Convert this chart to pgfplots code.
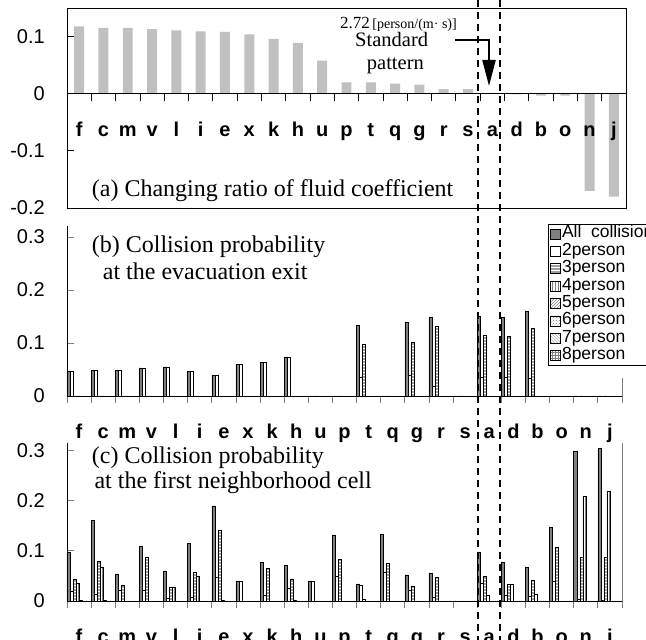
\documentclass[border=0pt]{standalone}
\usepackage{fontspec}
\setmainfont{Liberation Serif}
\setsansfont{Liberation Sans}
\usepackage{pgfplots}
\usepackage{pgfplotstable}
\pgfplotsset{compat=1.18}
\usetikzlibrary{patterns,arrows.meta}

\definecolor{barlight}{RGB}{192,192,192}
\definecolor{allcol}{RGB}{128,128,128}
\definecolor{tickgray}{RGB}{125,125,125}

% changing ratio of fluid coefficient
\pgfplotstableread{
x  r
0  0.118
1  0.115
2  0.115
3  0.113
4  0.111
5  0.109
6  0.108
7  0.104
8  0.096
9  0.089
10 0.058
11 0.020
12 0.020
13 0.0175
14 0.016
15 0.008
16 0.008
17 0
18 -0.001
19 -0.0035
20 -0.0035
21 -0.170
22 -0.180
}\tabA

% collision probability at the evacuation exit
\pgfplotstableread{
x  all   p2    p3    p4 p5 p6 p7 p8
0  0.046 0.046 0     0  0  0  0  0
1  0.048 0.048 0     0  0  0  0  0
2  0.049 0.049 0     0  0  0  0  0
3  0.053 0.053 0     0  0  0  0  0
4  0.055 0.055 0     0  0  0  0  0
5  0.047 0.047 0     0  0  0  0  0
6  0.040 0.040 0     0  0  0  0  0
7  0.060 0.060 0     0  0  0  0  0
8  0.064 0.064 0     0  0  0  0  0
9  0.074 0.074 0     0  0  0  0  0
10 0     0     0     0  0  0  0  0
11 0     0     0     0  0  0  0  0
12 0.133 0.036 0.098 0  0  0  0  0
13 0     0     0     0  0  0  0  0
14 0.139 0.040 0.101 0  0  0  0  0
15 0.148 0.018 0.132 0  0  0  0  0
16 0     0     0     0  0  0  0  0
17 0.151 0.035 0.115 0  0  0  0  0
18 0.148 0.035 0.113 0  0  0  0  0
19 0.160 0.033 0.128 0  0  0  0  0
20 0     0     0     0  0  0  0  0
21 0     0     0     0  0  0  0  0
22 0     0     0     0  0  0  0  0
}\tabB

% collision probability at the first neighborhood cell
\pgfplotstableread{
x  all   p2    p3    p4    p5    p6 p7 p8
0  0.098 0.019 0.043 0.035 0.002 0  0  0
1  0.161 0.014 0.079 0.067 0.002 0  0  0
2  0.054 0.022 0.032 0     0     0  0  0
3  0.109 0.021 0.088 0     0     0  0  0
4  0.060 0.005 0.028 0.027 0     0  0  0
5  0.115 0.008 0.057 0.050 0     0  0  0
6  0.190 0.047 0.142 0.001 0     0  0  0
7  0.040 0.040 0     0     0     0  0  0
8  0.077 0.012 0.065 0     0     0  0  0
9  0.071 0.025 0.044 0.002 0     0  0  0
10 0.040 0.040 0     0     0     0  0  0
11 0.132 0.049 0.083 0     0     0  0  0
12 0.034 0.031 0.003 0     0     0  0  0
13 0.133 0.058 0.075 0     0     0  0  0
14 0.052 0.022 0.030 0     0     0  0  0
15 0.056 0.008 0.047 0     0     0  0  0
16 0     0     0     0     0     0  0  0
17 0.098 0.035 0.049 0.012 0     0  0  0
18 0.078 0.012 0.033 0.033 0     0  0  0
19 0.067 0.010 0.042 0.014 0     0  0  0
20 0.147 0.039 0.108 0     0     0  0  0
21 0.299 0.003 0.087 0.209 0     0  0  0
22 0.305 0.002 0.087 0.218 0     0  0  0
}\tabC

\pgfplotsset{
  every non boxed x axis/.style={},
  every non boxed y axis/.style={},
  panel/.style={
    scale only axis,
    anchor=south west,
    xmin=-0.5, xmax=22.5,
    xtick={-0.5,0.5,...,22.5},
    xticklabels={},
    extra x ticks={0,1,...,22},
    extra x tick labels={f,c,m,v,l,i,e,x,k,h,u,p,t,q,g,r,s,a,d,b,o,n,j},
    extra x tick style={tick style={draw=none},
      xticklabel style={anchor=base, yshift=-36pt, inner sep=0pt,
        font=\sffamily\bfseries\fontsize{20}{20}\selectfont}},
    yticklabel style={anchor=east, inner sep=0pt, xshift=-22pt,
      font=\sffamily\fontsize{20}{20}\selectfont},
    tick align=inside,
    major tick length=7pt,
    axis line style={-, line width=0.8pt},
    hide obscured x ticks=false,
    hide obscured y ticks=false,
  },
  legsq/.style={legend image code/.code={\draw[##1, line width=0.6pt] (0pt,-5pt) rectangle (10pt,5pt);}},
  s1/.style={fill=allcol, draw=black, line width=0.5pt, legsq},
  s2/.style={fill=white, draw=black, line width=0.5pt, legsq},
  s3/.style={fill=gray!75, draw=black, line width=0.5pt, postaction={pattern=horizontal lines, pattern color=white}, legsq},
  s4/.style={fill=white, draw=black, line width=0.5pt, postaction={pattern=vertical lines, pattern color=gray}, legsq},
  s5/.style={fill=white, draw=black, line width=0.5pt, postaction={pattern=north east lines, pattern color=gray}, legsq},
  s6/.style={fill=white, draw=black, line width=0.5pt, postaction={pattern=crosshatch dots, pattern color=gray}, legsq},
  s7/.style={fill=white, draw=black, line width=0.5pt, postaction={pattern=north west lines, pattern color=gray!60}, legsq},
  s8/.style={fill=white, draw=black, line width=0.5pt, postaction={pattern=grid, pattern color=gray}, legsq},
}

\begin{document}
\begin{tikzpicture}
\path[use as bounding box] (0,0) rectangle (646pt,640pt);

% (a)
\begin{axis}[panel,
  at={(67pt,432pt)}, width=559pt, height=200pt,
  ymin=-0.2, ymax=0.15,
  axis x line=middle, axis y line=left,
  axis on top,
  xtick align=inside,
  ytick={-0.2,-0.1,0,0.1},
  yticklabels={-0.2,-0.1,0,0.1},
  tick style={black, line width=0.8pt},
  ybar, bar width=0.41,
  after end axis/.code={\draw[line width=0.8pt] (rel axis cs:0,0) rectangle (rel axis cs:1,1);},
]
\addplot[fill=barlight, draw=none] table[x=x,y=r] {\tabA};
\end{axis}

% (b)
\begin{axis}[panel,
  at={(67pt,244pt)}, width=555pt, height=169.6pt,
  ymin=0, ymax=0.32,
  axis x line=bottom, axis y line=left,
  ytick={0,0.1,0.2,0.3},
  yticklabels={0,0.1,0.2,0.3},
  tick style={tickgray, line width=0.8pt},
  ybar=0pt, bar width=0.125,
  legend style={at={(0.866,1.0142)}, anchor=north west, draw=black, line width=0.6pt,
    fill=white, font=\sffamily\fontsize{17.5}{17.5}\selectfont,
    inner xsep=2pt, inner ysep=1pt, row sep=0pt, column sep=1.5pt,
    nodes={inner sep=0pt, text height=12.6pt, text depth=4.8pt, anchor=west}},
  legend cell align=left,
  after end axis/.code={\draw[tickgray, line width=0.6pt] (rel axis cs:1,0) -- (axis cs:22.5,0.034);},
]
\addplot[s1, bar shift=-0.4375] table[x=x,y=all] {\tabB};
\addplot[s2, bar shift=-0.3125] table[x=x,y=p2] {\tabB};
\addplot[s3, bar shift=-0.1875] table[x=x,y=p3] {\tabB};
\addplot[s4, bar shift=-0.0625] table[x=x,y=p4] {\tabB};
\addplot[s5, bar shift=0.0625] table[x=x,y=p5] {\tabB};
\addplot[s6, bar shift=0.1875] table[x=x,y=p6] {\tabB};
\addplot[s7, bar shift=0.3125] table[x=x,y=p7] {\tabB};
\addplot[s8, bar shift=0.4375] table[x=x,y=p8] {\tabB};
\legend{All\hspace{0.55em}collision,2person,3person,4person,5person,6person,7person,8person}
\end{axis}

% (c)
\begin{axis}[panel,
  at={(67pt,39pt)}, width=555pt, height=158.4pt,
  ymin=0, ymax=0.316,
  axis x line=bottom, axis y line=left,
  ytick={0,0.1,0.2,0.3},
  yticklabels={0,0.1,0.2,0.3},
  tick style={tickgray, line width=0.8pt},
  ybar=0pt, bar width=0.125,
  after end axis/.code={\draw[tickgray, line width=0.6pt] (rel axis cs:1,0) -- (rel axis cs:1,1);},
]
\addplot[s1, bar shift=-0.4375] table[x=x,y=all] {\tabC};
\addplot[s2, bar shift=-0.3125] table[x=x,y=p2] {\tabC};
\addplot[s3, bar shift=-0.1875] table[x=x,y=p3] {\tabC};
\addplot[s4, bar shift=-0.0625] table[x=x,y=p4] {\tabC};
\addplot[s5, bar shift=0.0625] table[x=x,y=p5] {\tabC};
\addplot[s6, bar shift=0.1875] table[x=x,y=p6] {\tabC};
\addplot[s7, bar shift=0.3125] table[x=x,y=p7] {\tabC};
\addplot[s8, bar shift=0.4375] table[x=x,y=p8] {\tabC};
\end{axis}

% panel captions
\node[anchor=base west, inner sep=0pt, font=\fontsize{24}{24}\selectfont] at (91.7pt,443.3pt) {(a) Changing ratio of fluid coefficient};
\node[anchor=base west, inner sep=0pt, font=\fontsize{24}{24}\selectfont] at (91.7pt,387pt) {(b) Collision probability};
\node[anchor=base west, inner sep=0pt, font=\fontsize{24}{24}\selectfont] at (102.7pt,360pt) {at the evacuation exit};
\node[anchor=base west, inner sep=0pt, font=\fontsize{24}{24}\selectfont] at (91.7pt,176.7pt) {(c) Collision probability};
\node[anchor=base west, inner sep=0pt, font=\fontsize{24}{24}\selectfont] at (94.3pt,151.7pt) {at the first neighborhood cell};

% standard pattern annotation
\node[anchor=base west, inner sep=0pt] at (340pt,611.7pt) {{\fontsize{17}{17}\selectfont 2.72} {\fontsize{14}{14}\selectfont [person/(m· s)]}};
\node[anchor=base west, inner sep=0pt, font=\fontsize{20.5}{20.5}\selectfont] at (355pt,593.3pt) {Standard};
\node[anchor=base west, inner sep=0pt, font=\fontsize{20.5}{20.5}\selectfont] at (366.7pt,570pt) {pattern};
\draw[line width=2.2pt, line join=miter, -{Triangle[length=26pt,width=13pt]}] (455pt,600pt) -- (489pt,600pt) -- (489pt,554pt);

\draw[line width=2pt, dash pattern=on 7pt off 5pt] (478.3pt,640pt) -- (478.3pt,0pt);
\draw[line width=2pt, dash pattern=on 7pt off 5pt] (500pt,640pt) -- (500pt,0pt);
\end{tikzpicture}
\end{document}
